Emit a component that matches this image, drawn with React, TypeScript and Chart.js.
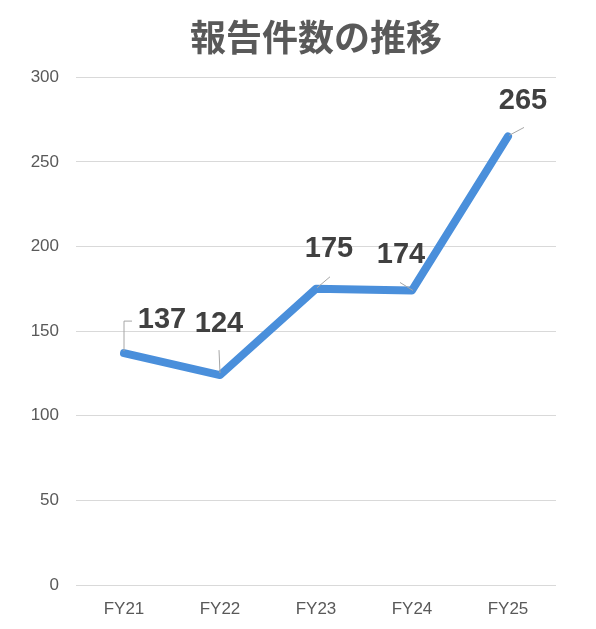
import React, { useEffect, useRef } from "react";
import { Chart, registerables } from "chart.js";

Chart.register(...registerables);

const categories = ["FY21", "FY22", "FY23", "FY24", "FY25"];
const reportCounts = [137, 124, 175, 174, 265];
const yTicks = [0, 50, 100, 150, 200, 250, 300];
const titleText = "報告件数の推移";

// label placement (px offsets from point) and leader-line paths
const labelOffsets = [
  { dx: 38, dy: -35, leader: [[0, -2], [0, -32], [8, -32]] },
  { dx: -1, dy: -53, leader: [[0, -2], [-1, -25]] },
  { dx: 13, dy: -42, leader: [[1, -1], [14, -12]] },
  { dx: -11, dy: -38, leader: [[-12, -8], [1, 0]] },
  { dx: 15, dy: -38, leader: [[1, -1], [16, -9]] },
];

const dataLabelPlugin = {
  id: "leaderLabels",
  afterDatasetsDraw(chart: any) {
    const meta = chart.getDatasetMeta(0);
    const ctx = chart.ctx;
    const data = chart.data.datasets[0].data;
    ctx.save();
    meta.data.forEach((pt: any, i: number) => {
      const o = labelOffsets[i];
      const x = pt.x;
      const y = pt.y;
      ctx.strokeStyle = "#A6A6A6";
      ctx.lineWidth = 1;
      ctx.beginPath();
      o.leader.forEach((p: number[], j: number) => {
        if (j === 0) ctx.moveTo(x + p[0], y + p[1]);
        else ctx.lineTo(x + p[0], y + p[1]);
      });
      ctx.stroke();
      const fs = 29;
      ctx.font = `bold ${fs}px "Liberation Sans", Arial, sans-serif`;
      ctx.fillStyle = "#404040";
      ctx.textAlign = "center";
      ctx.textBaseline = "alphabetic";
      ctx.fillText(String(data[i]), x + o.dx, y + o.dy + fs * 0.358);
    });
    ctx.restore();
  },
};

export default function App() {
  const ref = useRef<HTMLCanvasElement>(null);
  useEffect(() => {
    document.body.style.margin = "0";
    const chart = new Chart(ref.current as HTMLCanvasElement, {
      type: "line",
      data: {
        labels: categories,
        datasets: [
          {
            data: reportCounts,
            borderColor: "#4A8FDB",
            backgroundColor: "#4A8FDB",
            borderWidth: 8,
            pointRadius: 0,
            borderCapStyle: "round",
            borderJoinStyle: "round",
            tension: 0,
          },
        ],
      },
      options: {
        responsive: false,
        animation: false,
        layout: { padding: { left: 0, right: 40, top: 0, bottom: 0 } },
        plugins: {
          legend: { display: false },
          tooltip: { enabled: false },
          title: {
            display: true,
            fullSize: false,
            text: titleText,
            color: "#595959",
            font: { size: 36, weight: "bold", family: '"Noto Sans CJK JP", sans-serif', lineHeight: 1.2 },
            padding: { top: 16, bottom: 18 },
          },
        },
        scales: {
          x: {
            offset: true,
            grid: { display: false, drawTicks: false },
            border: { display: false },
            ticks: {
              color: "#595959",
              font: { size: 17, family: '"Liberation Sans", Arial, sans-serif' },
              padding: 14,
            },
            afterFit: (s: any) => {
              s.height = 44;
            },
          },
          y: {
            min: 0,
            max: 300,
            afterBuildTicks: (s: any) => {
              s.ticks = yTicks.map((v) => ({ value: v }));
            },
            grid: { color: "#D9D9D9", lineWidth: 1, drawTicks: false },
            border: { display: false },
            ticks: {
              color: "#595959",
              font: { size: 17, family: '"Liberation Sans", Arial, sans-serif' },
              padding: 17,
            },
            afterFit: (s: any) => {
              s.width = 76;
            },
          },
        },
      },
      plugins: [dataLabelPlugin],
    });
    return () => chart.destroy();
  }, []);
  return <canvas ref={ref} width={596} height={629} style={{ display: "block" }} />;
}
